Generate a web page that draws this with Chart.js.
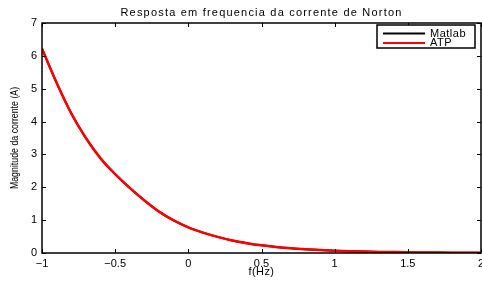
<!DOCTYPE html>
<html>
<head>
<meta charset="utf-8">
<script src="https://cdn.jsdelivr.net/npm/chart.js@4"></script>
<style>
  html, body { margin: 0; padding: 0; background: #fff; }
  #wrap { width: 482px; height: 282px; }
</style>
</head>
<body>
<div id="wrap"><canvas id="chart" width="482" height="282"></canvas></div>
<script>
// values
const freq = [-1.0, -0.9, -0.8, -0.7, -0.6, -0.5, -0.4, -0.3, -0.2, -0.1, 0.0,
  0.1, 0.2, 0.3, 0.4, 0.5, 0.6, 0.7, 0.8, 0.9, 1.0,
  1.1, 1.2, 1.3, 1.4, 1.5, 1.6, 1.7, 1.8, 1.9, 2.0];
const matlab = [6.22, 5.18, 4.25, 3.50, 2.88, 2.40, 1.98, 1.60, 1.26, 0.99, 0.78,
  0.62, 0.49, 0.38, 0.30, 0.235, 0.185, 0.145, 0.115, 0.09, 0.07,
  0.055, 0.043, 0.034, 0.027, 0.021, 0.017, 0.013, 0.010, 0.008, 0.006];
const atp = [6.22, 5.18, 4.25, 3.50, 2.88, 2.40, 1.98, 1.60, 1.26, 0.99, 0.78,
  0.62, 0.49, 0.38, 0.30, 0.235, 0.185, 0.145, 0.115, 0.09, 0.07,
  0.055, 0.043, 0.034, 0.027, 0.021, 0.017, 0.013, 0.010, 0.008, 0.006];
const xTicks = [-1, -0.5, 0, 0.5, 1, 1.5, 2];
const yTicks = [0, 1, 2, 3, 4, 5, 6, 7];

const font = '"Liberation Sans", Arial, sans-serif';

function pts(ys) {
  return freq.map((f, i) => ({ x: f, y: ys[i] }));
}

// box, inward ticks, title, axis labels, legend
const matlabStyle = {
  id: 'matlabStyle',
  afterDraw(chart) {
    const { ctx, chartArea: a, scales } = chart;
    ctx.save();
    ctx.strokeStyle = '#000';
    ctx.lineWidth = 1;
    ctx.beginPath();
    xTicks.forEach(v => {
      const px = Math.round(scales.x.getPixelForValue(v)) + 0.5;
      ctx.moveTo(px, a.bottom); ctx.lineTo(px, a.bottom - 4);
      ctx.moveTo(px, a.top); ctx.lineTo(px, a.top + 4);
    });
    yTicks.forEach(v => {
      const py = Math.round(scales.y.getPixelForValue(v)) + 0.5;
      ctx.moveTo(a.left, py); ctx.lineTo(a.left + 4, py);
      ctx.moveTo(a.right, py); ctx.lineTo(a.right - 4, py);
    });
    ctx.stroke();
    ctx.lineWidth = 1.5;
    ctx.strokeRect(a.left, a.top, a.right - a.left, a.bottom - a.top);

    ctx.fillStyle = '#000';
    ctx.textAlign = 'center';
    ctx.textBaseline = 'middle';
    ctx.font = '11px ' + font;
    ctx.letterSpacing = '1.2px';
    ctx.fillText('Resposta em frequencia da corrente de Norton', (a.left + a.right) / 2, 13);
    ctx.letterSpacing = '0.4px';
    ctx.fillText('f(Hz)', (a.left + a.right) / 2, 272);
    ctx.letterSpacing = '0px';

    ctx.save();
    ctx.translate(15, (a.top + a.bottom) / 2);
    ctx.rotate(-Math.PI / 2);
    ctx.scale(0.88, 1);
    ctx.font = '10px ' + font;
    ctx.fillText('Magnitude da corrente (A)', 0, 0);
    ctx.restore();

    // legend
    const lx = 377, ly = 25, lw = 98, lh = 23;
    ctx.fillStyle = '#fff';
    ctx.fillRect(lx, ly, lw, lh);
    ctx.strokeStyle = '#000';
    ctx.lineWidth = 1.5;
    ctx.strokeRect(lx, ly, lw, lh);
    chart.data.datasets.forEach((ds, i) => {
      const y = ly + 8.5 + i * 9.5;
      ctx.strokeStyle = ds.borderColor;
      ctx.lineWidth = 2;
      ctx.beginPath();
      ctx.moveTo(383, y); ctx.lineTo(425, y);
      ctx.stroke();
      ctx.fillStyle = '#000';
      ctx.textAlign = 'left';
      ctx.font = '11px ' + font;
      ctx.letterSpacing = '0.5px';
      ctx.fillText(ds.label, 430, y);
    });
    ctx.restore();
  }
};

new Chart(document.getElementById('chart'), {
  type: 'line',
  data: {
    datasets: [
      { label: 'Matlab', data: pts(matlab), borderColor: '#000', borderWidth: 2, pointRadius: 0, cubicInterpolationMode: 'monotone', order: 2 },
      { label: 'ATP', data: pts(atp), borderColor: '#ff0000', borderWidth: 2.5, pointRadius: 0, cubicInterpolationMode: 'monotone', order: 1 }
    ]
  },
  options: {
    responsive: false,
    animation: false,
    layout: { padding: { top: 23, right: 1, left: 0, bottom: 0 } },
    plugins: { legend: { display: false }, title: { display: false }, tooltip: { enabled: false } },
    scales: {
      x: {
        type: 'linear', min: -1, max: 2,
        afterFit(s) { s.height = 29; s.paddingLeft = 0; s.paddingRight = 0; },
        afterBuildTicks(s) { s.ticks = xTicks.map(v => ({ value: v })); },
        grid: { display: false, drawTicks: false },
        border: { display: false },
        ticks: {
          padding: 4, color: '#000', font: { family: font, size: 11 },
          maxRotation: 0, autoSkip: false,
          callback: v => String(v).replace('-', '\u2212')
        }
      },
      y: {
        type: 'linear', min: 0, max: 7,
        afterFit(s) { s.width = 42; },
        afterBuildTicks(s) { s.ticks = yTicks.map(v => ({ value: v })); },
        grid: { display: false, drawTicks: false },
        border: { display: false },
        ticks: { padding: 5, color: '#000', font: { family: font, size: 11 } }
      }
    }
  },
  plugins: [matlabStyle]
});
</script>
</body>
</html>
